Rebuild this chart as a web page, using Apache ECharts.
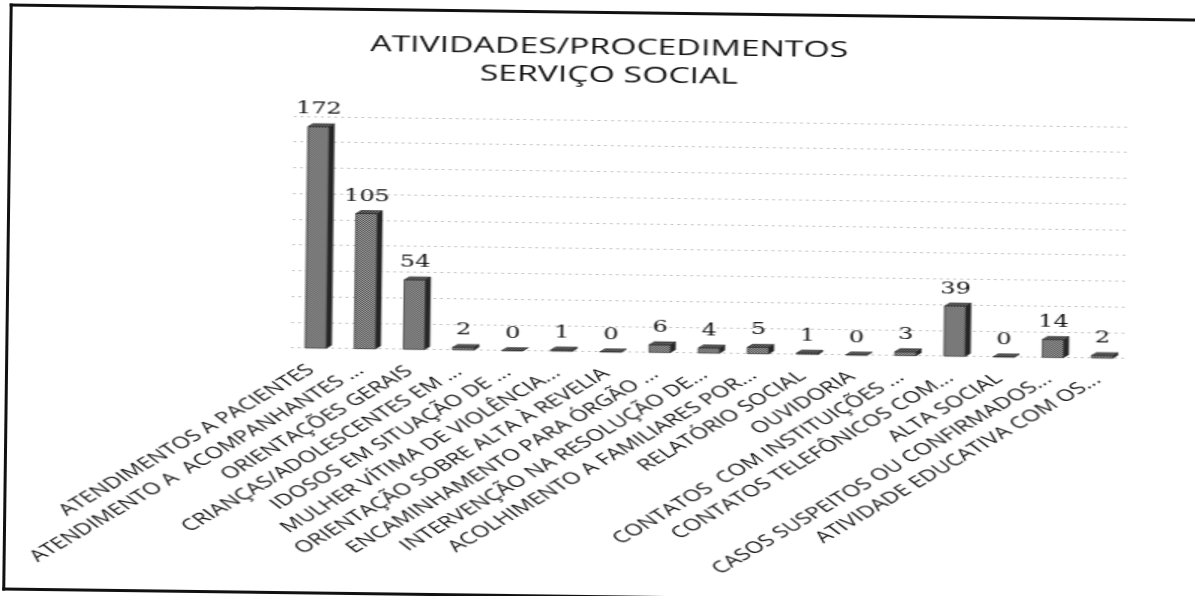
<!DOCTYPE html>
<html>
<head>
<meta charset="utf-8">
<script src="https://cdn.jsdelivr.net/npm/echarts@6/dist/echarts.min.js"></script>
<style>
  html, body { margin: 0; padding: 0; background: #fff; overflow: hidden;
               width: 1195px; height: 596px; }
  /* the sheet sits slightly askew on the page */
  #page { position: absolute; left: 0; top: 0; width: 1195px; height: 596px;
          transform: rotate(0.73deg); transform-origin: 597.5px 298px; }
  #frame { position: absolute; left: 6px; top: 11px; width: 1260px; height: 581px;
           border-left: 3px solid #111; border-top: 3px solid #111;
           border-bottom: 3px solid #111; border-right: none; }
  /* chart drawn on a narrower canvas and widened */
  #chart { position: absolute; left: 0; top: 0; width: 797px; height: 596px;
           transform: scaleX(1.5); transform-origin: 0 0; }
</style>
</head>
<body>
<div id="page">
  <div id="frame"></div>
  <div id="chart"></div>
</div>
<script>
// Categories of social-service activities and their counts
const categories = [
  'ATENDIMENTOS A PACIENTES',
  'ATENDIMENTO A  ACOMPANHANTES ...',
  'ORIENTAÇÕES GERAIS',
  'CRIANÇAS/ADOLESCENTES EM ...',
  'IDOSOS EM SITUAÇÃO DE ...',
  'MULHER VÍTIMA DE VIOLÊNCIA...',
  'ORIENTAÇÃO SOBRE ALTA À REVELIA',
  'ENCAMINHAMENTO PARA ÓRGÃO ...',
  'INTERVENÇÃO NA RESOLUÇÃO DE...',
  'ACOLHIMENTO A FAMILIARES POR...',
  'RELATÓRIO SOCIAL',
  'OUVIDORIA',
  'CONTATOS  COM INSTITUIÇÕES ...',
  'CONTATOS TELEFÔNICOS COM...',
  'ALTA SOCIAL',
  'CASOS SUSPEITOS OU CONFIRMADOS...',
  'ATIVIDADE EDUCATIVA COM OS...'
];
const values = [172, 105, 54, 2, 0, 1, 0, 6, 4, 5, 1, 0, 3, 39, 0, 14, 2];
const titleLines = ['ATIVIDADES/PROCEDIMENTOS', 'SERVIÇO SOCIAL'];
const valueMin = 0;
const valueMax = 180;
const valueStep = 20;

// small two-tone tile that gives the bar faces a printed, dotted texture
function dither(light, dark) {
  const c = document.createElement('canvas');
  c.width = 2; c.height = 2;
  const g = c.getContext('2d');
  g.fillStyle = light; g.fillRect(0, 0, 2, 2);
  g.fillStyle = dark; g.fillRect(0, 0, 1, 1); g.fillRect(1, 1, 1, 1);
  return { image: c, repeat: 'repeat' };
}
const frontFill = dither('#a9a9a9', '#4a4a4a');
const topFill = dither('#7a7a7a', '#2e2e2e');

// a box with a front face, a dark right side and a top face
function renderBox(params, api) {
  const idx = api.value(0);
  const v = api.value(1);
  const base = api.coord([idx, 0]);
  const top = api.coord([idx, v]);
  const band = api.size([1, 0])[0];
  const w = band * 0.43;
  const dx = band * 0.1;
  const dy = 3;
  const x0 = base[0] - w / 2;
  const x1 = base[0] + w / 2;
  const yb = base[1];
  const yt = top[1];
  return {
    type: 'group',
    children: [
      { type: 'polygon',
        shape: { points: [[x1, yt], [x1 + dx, yt - dy], [x1 + dx, yb - dy], [x1, yb]] },
        style: { fill: '#262626', stroke: '#181818', lineWidth: 0.5 } },
      { type: 'rect',
        shape: { x: x0, y: yt, width: w, height: yb - yt },
        style: { fill: frontFill, stroke: '#2e2e2e', lineWidth: 0.7 } },
      { type: 'polygon',
        shape: { points: [[x0, yt], [x1, yt], [x1 + dx, yt - dy], [x0 + dx, yt - dy]] },
        style: { fill: topFill, stroke: '#222', lineWidth: 0.6 } },
      { type: 'text', x: base[0], y: yt - 17,
        style: { text: String(v), align: 'center', verticalAlign: 'middle',
                 font: '16px "DejaVu Serif"', fill: '#111' } }
    ]
  };
}

const chart = echarts.init(document.getElementById('chart'), null, { renderer: 'canvas' });
chart.setOption({
  animation: false,
  backgroundColor: 'transparent',
  title: {
    text: titleLines.join('\n'),
    left: 399,
    top: 29,
    textAlign: 'center',
    textStyle: { fontFamily: 'Open Sans', fontSize: 22.5, fontWeight: 'normal',
                 color: '#111', lineHeight: 28 }
  },
  grid: { left: 194.6, top: 120, width: 557, height: 231.7, containLabel: false },
  xAxis: {
    type: 'category',
    data: categories,
    boundaryGap: true,
    axisLine: { show: false },
    axisTick: { show: false },
    axisLabel: {
      interval: 0, rotate: 42, margin: 17, padding: [0, 4, 0, 0],
      fontFamily: 'Open Sans', fontSize: 16, color: '#151515'
    }
  },
  yAxis: {
    type: 'value',
    min: valueMin, max: valueMax, interval: valueStep,
    axisLine: { show: false },
    axisTick: { show: false },
    axisLabel: { show: false },
    splitLine: { show: true, lineStyle: { color: '#b4b4b4', width: 1, type: [1.5, 3] } }
  },
  series: [{
    type: 'custom',
    renderItem: renderBox,
    encode: { x: 0, y: 1 },
    data: values.map((v, i) => [i, v])
  }]
});
</script>
</body>
</html>
